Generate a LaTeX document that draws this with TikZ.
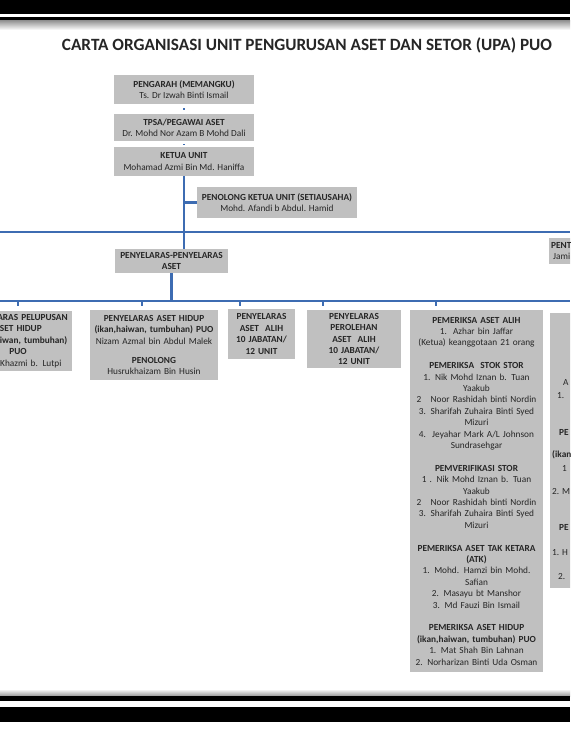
\documentclass[tikz,border=0pt]{standalone}
\usepackage{fontspec}
\setmainfont{Carlito}
\usetikzlibrary{positioning,calc}
\definecolor{upablue}{RGB}{61,108,178}
\definecolor{upagrey}{RGB}{192,192,192}
\definecolor{upatext}{RGB}{38,38,38}

\begin{document}
\begin{tikzpicture}[x=1pt,y=-1pt,
  box/.style={fill=upagrey,inner sep=1pt,align=center,text=upatext,font=\fontsize{9.3}{11.4}\selectfont},
  boldbox/.style={box,font=\bfseries\fontsize{9.3}{11.4}\selectfont},
  link/.style={upablue,line width=2.6pt},
  tick/.style={upablue,line width=1.6pt}]
\clip (0,0) rectangle (570,730);
\fill[white] (0,0) rectangle (570,730);
% frame bands
\fill[black] (0,0) rectangle (570,14);\fill[black] (0,17) rectangle (570,21);
\shade[top color=black!40,bottom color=white] (0,21) rectangle (570,30);
\shade[top color=white,bottom color=black!40] (0,689) rectangle (570,696);
\fill[black] (0,696) rectangle (570,701);\fill[black] (0,707) rectangle (570,722);
\node[text=upatext,font=\bfseries\fontsize{17.2}{20}\selectfont] (title) at (307,45) {CARTA ORGANISASI UNIT PENGURUSAN ASET DAN SETOR (UPA) PUO};
% top
\node[box,minimum width=140pt,minimum height=29pt] (pengarah) at (184,89.5) {\textbf{PENGARAH (MEMANGKU)}\\Ts. Dr Izwah Binti Ismail};
\node[box,minimum width=140pt,minimum height=27pt] (tpsa) at (184,128) {\textbf{TPSA/PEGAWAI ASET}\\Dr. Mohd Nor Azam B Mohd Dali};
\node[box,minimum width=140pt,minimum height=29pt] (ketua) at (184,161.5) {\textbf{KETUA UNIT}\\Mohamad Azmi Bin Md. Haniffa};
\node[box,minimum width=160pt,minimum height=31pt] (penolong) at (277,202.5) {\textbf{PENOLONG KETUA UNIT (SETIAUSAHA)}\\Mohd. Afandi b Abdul. Hamid};
\node[boldbox,minimum width=113pt,minimum height=24pt] (penyelaras) at (171.5,261) {PENYELARAS-PENYELARAS\\ASET};
% cut box on the right
\fill[upagrey] (549,238) rectangle (575,264);
\node[anchor=west,inner sep=0pt,text=upatext,font=\bfseries\fontsize{9.3}{11.4}\selectfont] (pent) at (551,245) {PENT};
\node[anchor=west,inner sep=0pt,text=upatext,font=\fontsize{9.3}{11.4}\selectfont] (jami) at (553,256) {Jami};
% bottom row
\node[box,minimum width=108pt,minimum height=60pt,text width=106pt] (boxa) at (18,341) {\textbf{PENYELARAS PELUPUSAN}\\\textbf{ASET HIDUP}\\\textbf{(ikan,haiwan, tumbuhan)}\\\textbf{PUO}\\Mohd Khazmi b. Lutpi};
\node[box,minimum width=128pt,minimum height=70pt,text width=126pt] (boxb) at (154,345) {\textbf{PENYELARAS ASET HIDUP}\\\textbf{(ikan,haiwan, tumbuhan) PUO}\\Nizam Azmal bin Abdul Malek\\[8pt]\textbf{PENOLONG}\\Husrukhaizam Bin Husin};
\node[boldbox,minimum width=67pt,minimum height=50pt,text width=65pt] (boxc) at (261.5,334) {PENYELARAS\\ASET~~ALIH\\10 JABATAN/\\12 UNIT};
\node[boldbox,minimum width=94pt,minimum height=58pt,text width=92pt] (boxd) at (354,339) {PENYELARAS\\PEROLEHAN\\ASET~~ALIH\\10 JABATAN/\\12 UNIT};
\node[box,minimum width=133pt,minimum height=362pt,text width=131pt] (boxe) at (476.5,491) {\textbf{PEMERIKSA ASET ALIH}\\1.~~Azhar bin Jaffar\\(Ketua) keanggotaan 21 orang\\[11.4pt]
\textbf{PEMERIKSA~~STOK STOR}\\1. Nik Mohd Iznan b. Tuan\\Yaakub\\2~~ Noor Rashidah binti Nordin\\3. Sharifah Zuhaira Binti Syed\\Mizuri\\4.~~Jeyahar Mark A/L Johnson\\Sundrasehgar\\[11.4pt]
\textbf{PEMVERIFIKASI STOR}\\1 . Nik Mohd Iznan b. Tuan\\Yaakub\\2~~ Noor Rashidah binti Nordin\\3. Sharifah Zuhaira Binti Syed\\Mizuri\\[11.4pt]
\textbf{PEMERIKSA ASET TAK KETARA}\\\textbf{(ATK)}\\1. Mohd. Hamzi bin Mohd.\\Safian\\2. Masayu bt Manshor\\3. Md Fauzi Bin Ismail\\[11.4pt]
\textbf{PEMERIKSA ASET HIDUP}\\\textbf{(ikan,haiwan, tumbuhan) PUO}\\1. Mat Shah Bin Lahnan\\2. Norharizan Binti Uda Osman};
% cut box on the right, bottom row
\fill[upagrey] (550,313) rectangle (575,588);
\foreach \x/\y/\t [count=\i] in {563/383/A,557/396/1.,559/432/\textbf{PE},552/455/\textbf{(ikan},562/469/1,552/492/2. M,559/527/\textbf{PE},552/553/1. H,558/577/2.}
  \node[anchor=west,inner sep=0pt,text=upatext,font=\fontsize{9.3}{11.4}\selectfont] (frag\i) at (\x,\y) {\t};
% connectors
\coordinate (juncA) at (184,232);\coordinate (juncB) at (171.5,301);
\coordinate (lineAw) at (0,232);\coordinate (lineAe) at (570,232);
\coordinate (lineBw) at (0,301);\coordinate (lineBe) at (570,301);
\draw[upablue,line width=2pt,shorten <=4pt,shorten >=4pt] (pengarah) -- (tpsa);
\draw[upablue,line width=2pt,shorten <=2.5pt,shorten >=2.5pt] (tpsa) -- (ketua);
\draw[link] (ketua.south) -- (juncA) -- (penyelaras.north -| juncA);
\draw[link] (ketua.south |- penolong.west) -- (penolong.west);
\draw[link] (lineAw) -- (lineAe);
\draw[link] (penyelaras.south) -- (juncB);
\draw[link] (lineBw) -- (lineBe);
\foreach \x in {18,142,240,323,436} \draw[tick] (\x,301) -- (\x,306);
\end{tikzpicture}
\end{document}
